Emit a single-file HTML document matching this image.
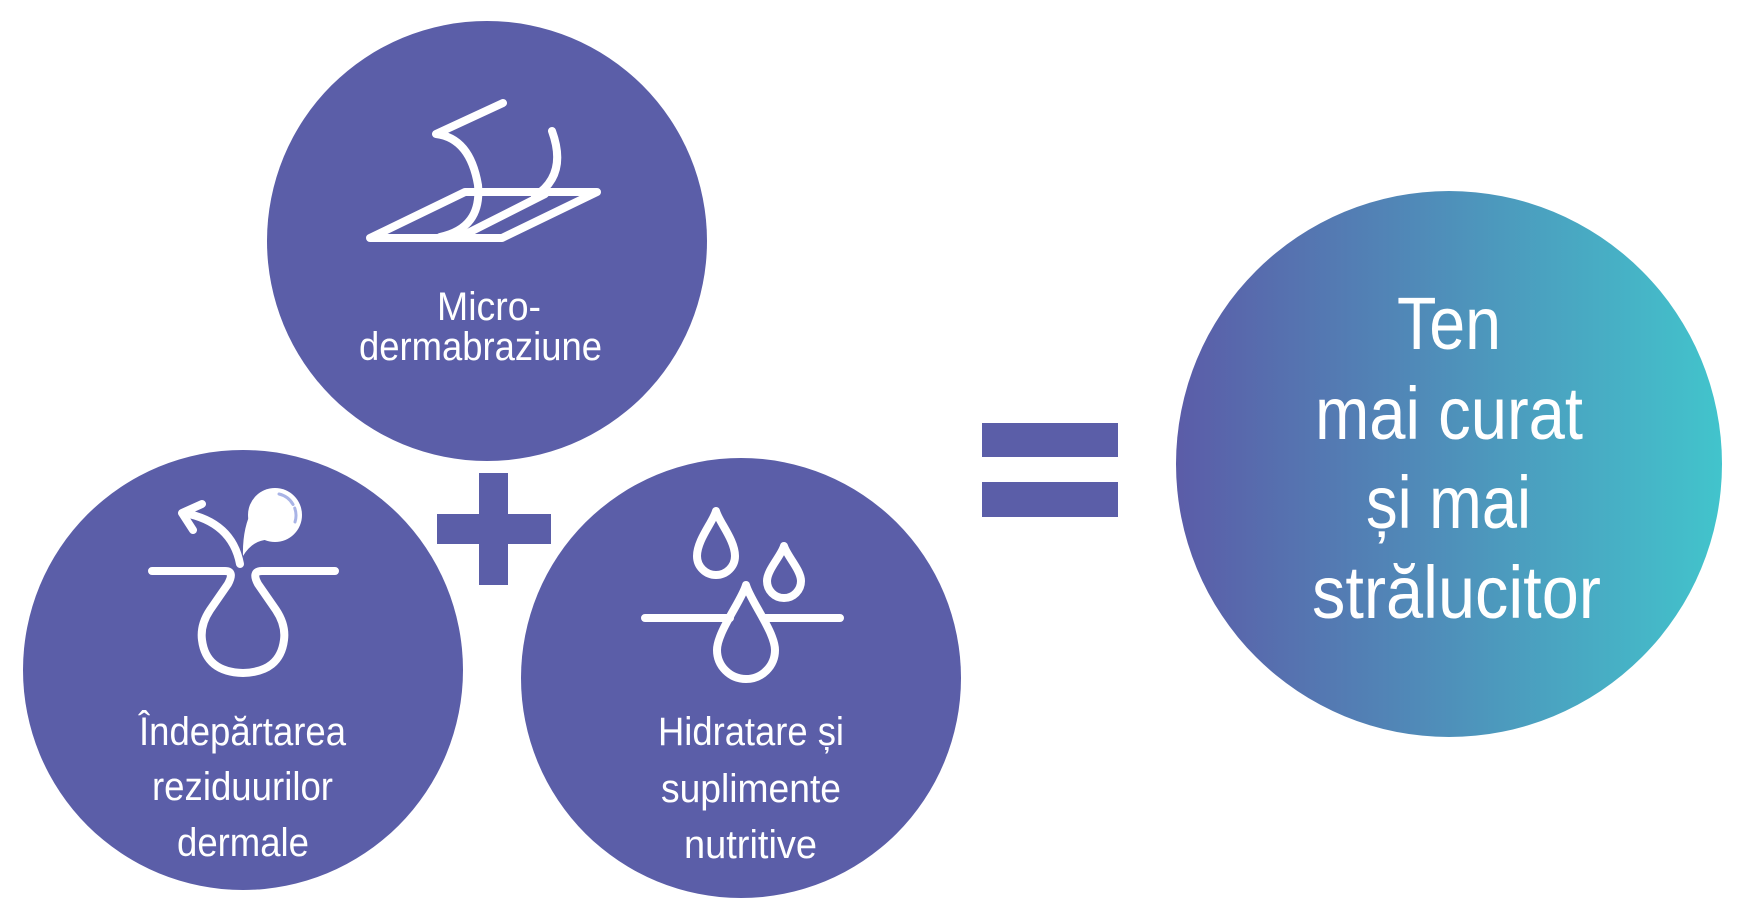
<!DOCTYPE html>
<html><head><meta charset="utf-8"><style>html,body{margin:0;padding:0;background:#fff}svg{display:block}</style></head>
<body>
<svg width="1748" height="916" viewBox="0 0 1748 916" xmlns="http://www.w3.org/2000/svg">
<defs>
<linearGradient id="g" x1="0" x2="1" y1="0" y2="0">
<stop offset="0" stop-color="#5b5ca8"/><stop offset="1" stop-color="#42c4cc"/>
</linearGradient>
</defs>
<rect width="1748" height="916" fill="#fff"/>
<circle cx="487" cy="241" r="220" fill="#5b5ea8"/>
<circle cx="243" cy="670" r="220" fill="#5b5ea8"/>
<circle cx="741" cy="678" r="220" fill="#5b5ea8"/>
<rect x="479" y="473" width="29" height="112" fill="#5b5ea8"/>
<rect x="437" y="514" width="114" height="30" fill="#5b5ea8"/>
<rect x="982" y="423" width="136" height="34" fill="#5b5ea8"/>
<rect x="982" y="482" width="136" height="35" fill="#5b5ea8"/>
<circle cx="1449" cy="464" r="273" fill="url(#g)"/>

<g fill="none" stroke="#fff" stroke-width="8" stroke-linecap="round" stroke-linejoin="round">
<path d="M503,103 L436,134 Q470,138 478,185 Q482,228 440,237"/>
<path d="M370,238 L465,192 L597,192 L502,238 Z"/>
<path d="M460,237 L545,194"/>
<path d="M552,131 Q568,175 535,196"/>
<path d="M152,571 H225 Q235,571 228,584 L210,610 Q200,625 202,640 Q206,672 243,673 Q280,672 284,640 Q286,625 276,610 L258,584 Q251,571 262,571 H335"/>
<path d="M240,564 Q232,522 184,513"/>
<path d="M202,504 L182,513 L193,530"/>
<path d="M645,618 H730 M763,618 H840"/>
<path d="M746,585 C742,600 717,632 717,650 A29,29 0 0 0 775,650 C775,632 750,600 746,585 Z"/>
<path d="M716,511 C713,522 697,540 697,556 A19,19 0 0 0 735,556 C735,540 719,522 716,511 Z"/>
<path d="M784,546 C781,556 767,570 767,581 A17,17 0 0 0 801,581 C801,570 787,556 784,546 Z"/>
</g>
<circle cx="275" cy="515" r="27" fill="#fff"/>
<path d="M243,556 Q242,522 258,500 L272,540 Q254,538 243,556 Z" fill="#fff"/>
<path d="M279,494 A22,22 0 0 1 295,522" fill="none" stroke="#a9b4e6" stroke-width="3" stroke-linecap="round" stroke-dasharray="18 4"/>

<g fill="#fff" font-family="Liberation Sans, sans-serif">
<text x="437" y="320" font-size="40" textLength="104" lengthAdjust="spacingAndGlyphs">Micro-</text>
<text x="359" y="360" font-size="40" textLength="243" lengthAdjust="spacingAndGlyphs">dermabraziune</text>
<text x="139" y="745" font-size="40" textLength="207" lengthAdjust="spacingAndGlyphs">Îndepărtarea</text>
<text x="152" y="800" font-size="40" textLength="181" lengthAdjust="spacingAndGlyphs">reziduurilor</text>
<text x="177" y="856" font-size="40" textLength="132" lengthAdjust="spacingAndGlyphs">dermale</text>
<text x="658" y="745" font-size="40" textLength="186" lengthAdjust="spacingAndGlyphs">Hidratare și</text>
<text x="661" y="802" font-size="40" textLength="180" lengthAdjust="spacingAndGlyphs">suplimente</text>
<text x="684" y="858" font-size="40" textLength="133" lengthAdjust="spacingAndGlyphs">nutritive</text>
<text x="1397" y="349" font-size="74" textLength="104" lengthAdjust="spacingAndGlyphs">Ten</text>
<text x="1315" y="439" font-size="74" textLength="268" lengthAdjust="spacingAndGlyphs">mai curat</text>
<text x="1366" y="528" font-size="74" textLength="165" lengthAdjust="spacingAndGlyphs">și mai</text>
<text x="1312" y="618" font-size="74" textLength="289" lengthAdjust="spacingAndGlyphs">strălucitor</text>
</g>
</svg>
</body></html>
